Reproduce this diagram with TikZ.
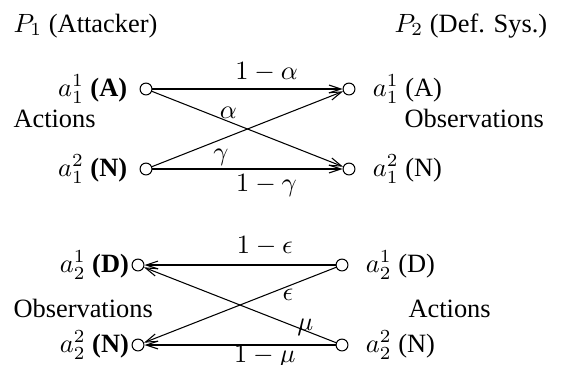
\documentclass[tikz,border=0pt]{standalone}
\usepackage{fontspec}
\setmainfont{Liberation Serif}
\usetikzlibrary{arrows.meta,positioning}
\tikzset{
  vtx/.style={circle, draw, inner sep=0pt, minimum size=4.5pt},
  lab/.style={inner sep=0pt},
  arr/.style={-{Straight Barb[length=4.5pt,width=3pt]}},
}
\begin{document}
\begin{tikzpicture}[x=0.3788pt, y=-0.3788pt]
    % --- 定义坐标 (单位: 像素, y 轴向下) ---
    \def\xLt{146} \def\xRt{349}
    \def\xLb{138} \def\xRb{342}
    \useasboundingbox (0,0) rectangle (564,364);

    % --- 标题 ---
    \node[lab, anchor=base west] (p1) at (13,32) {$P_1$ (Attacker)};
    \node[lab, anchor=base west] (p2) at (394,32) {$P_2$ (Def. Sys.)};

    % --- 第一阶段: 攻击者动作 -> 防御系统观测 ---
    \node[vtx] (aA) at (\xLt,89) {};
    \node[vtx] (aN) at (\xLt,169) {};
    \node[vtx] (oA) at (\xRt,89) {};
    \node[vtx] (oN) at (\xRt,169) {};
    \node[lab, left=4.5pt of aA] (laA) {$a_1^1$ \textbf{(A)}};
    \node[lab, left=4.5pt of aN] (laN) {$a_1^2$ \textbf{(N)}};
    \node[lab, right=6.4pt of oA] (loA) {$a_1^1$ (A)};
    \node[lab, right=6.4pt of oN] (loN) {$a_1^2$ (N)};
    \node[lab, anchor=base west] (act1) at (13,127) {Actions};
    \node[lab, anchor=base west] (obs1) at (404,127) {Observations};

    % 转移概率
    \draw[arr] (aA) -- node[pos=0.6, above, inner sep=2.5pt] {$1-\alpha$} (oA);
    \draw[arr] (aA) -- node[pos=0.4, above, inner sep=1pt] {$\alpha$} (oN);
    \draw[arr] (aN) -- (oA);
    \draw[arr] (aN) -- node[pos=0.36, above, inner sep=1pt] {$\gamma$}
                       node[pos=0.6, below, inner sep=2pt] {$1-\gamma$} (oN);

    % --- 第二阶段: 防御系统动作 -> 攻击者观测 ---
    \node[vtx] (dD) at (\xLb,265) {};
    \node[vtx] (dN) at (\xLb,345) {};
    \node[vtx] (cD) at (\xRb,265) {};
    \node[vtx] (cN) at (\xRb,345) {};
    \node[lab, left=0.8pt of dD] (ldD) {$a_2^1$ \textbf{(D)}};
    \node[lab, left=0.8pt of dN] (ldN) {$a_2^2$ \textbf{(N)}};
    \node[lab, right=6.4pt of cD] (lcD) {$a_2^1$ (D)};
    \node[lab, right=6.4pt of cN] (lcN) {$a_2^2$ (N)};
    \node[lab, anchor=base west] (obs2) at (13,317) {Observations};
    \node[lab, anchor=base west] (act2) at (408,317) {Actions};

    % 转移概率
    \draw[arr] (cD) -- node[pos=0.37, above] {$1-\epsilon$} (dD);
    \draw[arr] (cD) -- node[pos=0.25, below, inner sep=1pt] {$\epsilon$} (dN);
    \draw[arr] (cN) -- node[pos=0.16, anchor=base, inner sep=0pt] {$\mu$} (dD);
    \draw[arr] (cN) -- node[pos=0.37, below, inner sep=0pt] {$1-\mu$} (dN);
\end{tikzpicture}
\end{document}
